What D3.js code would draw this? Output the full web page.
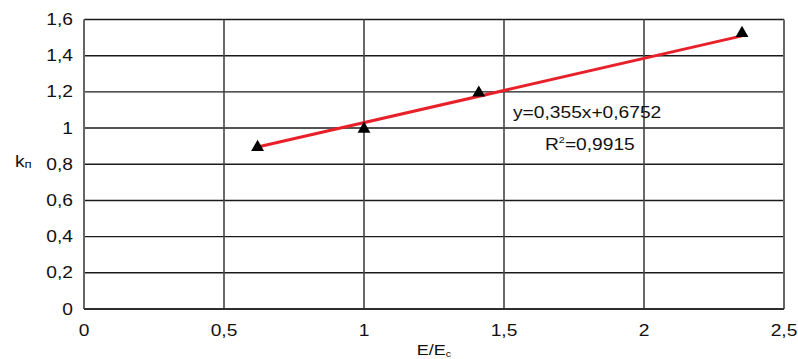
<!DOCTYPE html>
<html>
<head>
<meta charset="utf-8">
<script src="https://cdn.jsdelivr.net/npm/d3@7/dist/d3.min.js"></script>
<style>
  html, body { margin: 0; padding: 0; background: #fff; }
  svg { display: block; font-family: "Liberation Sans", Arial, sans-serif; }
</style>
</head>
<body>
<svg id="chart" width="798" height="359"></svg>
<script>
// Measured points: relative field strength vs. coefficient
const xValues = [0.62, 1.0, 1.41, 2.35];
const yValues = [0.9, 1.0, 1.2, 1.53];

// Linear trend (least squares fit)
const trendSlope = 0.355;
const trendIntercept = 0.6752;
const trendLabel = "y=0,355x+0,6752";
const r2Label = "=0,9915";

const xTicks = [0, 0.5, 1, 1.5, 2, 2.5];
const yTicks = [0, 0.2, 0.4, 0.6, 0.8, 1.0, 1.2, 1.4, 1.6];

const fmt = v => String(v).replace(".", ",");
const stretch = 1.2; // glyphs are drawn slightly wide

const svg = d3.select("#chart");
const margin = { left: 84, right: 14, top: 19.5, bottom: 50 };
const W = 798, H = 359;

const x = d3.scaleLinear().domain([0, 2.5]).range([margin.left, W - margin.right]);
const y = d3.scaleLinear().domain([0, 1.6]).range([H - margin.bottom, margin.top]);

// Places a text whose anchor sits at (px, py), widened horizontally
function label(px, py) {
  return svg.append("g")
    .attr("transform", `translate(${px},${py}) scale(${stretch},1)`)
    .append("text").attr("fill", "#111");
}

// Horizontal grid lines
svg.append("g").selectAll("line").data(yTicks).join("line")
  .attr("x1", x(0)).attr("x2", x(2.5))
  .attr("y1", d => y(d)).attr("y2", d => y(d))
  .attr("stroke", "#1a1a1a").attr("stroke-width", 1.4);

// Vertical grid lines
svg.append("g").selectAll("line").data(xTicks).join("line")
  .attr("x1", d => x(d)).attr("x2", d => x(d))
  .attr("y1", y(0)).attr("y2", y(1.6))
  .attr("stroke", d => (d === 0 || d === 2.5) ? "#666" : "#444")
  .attr("stroke-width", d => (d === 0 || d === 2.5) ? 2 : 1.6);

// Bottom axis line
svg.append("line")
  .attr("x1", x(0)).attr("x2", x(2.5))
  .attr("y1", y(0)).attr("y2", y(0))
  .attr("stroke", "#222").attr("stroke-width", 1.6);

// Y tick labels
yTicks.forEach(d => {
  label(73, y(d)).attr("dy", "0.35em").attr("text-anchor", "end")
    .attr("font-size", 16).text(fmt(d));
});

// X tick labels
xTicks.forEach(d => {
  label(x(d), 330).attr("dy", "0.35em").attr("text-anchor", "middle")
    .attr("font-size", 16).text(fmt(d));
});

// Axis titles
const xt = label((x(0) + x(2.5)) / 2, 355)
  .attr("text-anchor", "middle").attr("font-size", 15);
xt.append("tspan").text("E/E");
xt.append("tspan").attr("font-size", 9).attr("dy", 2).text("c");

const yt = label(15, 167).attr("font-size", 16);
yt.append("tspan").text("k");
yt.append("tspan").attr("font-size", 11).attr("dy", 1).text("п");

// Trend line across the data range
const x0 = d3.min(xValues), x1 = d3.max(xValues);
svg.append("line")
  .attr("x1", x(x0)).attr("y1", y(trendSlope * x0 + trendIntercept))
  .attr("x2", x(x1)).attr("y2", y(trendSlope * x1 + trendIntercept))
  .attr("stroke", "#e8202a").attr("stroke-width", 3);

// Triangle markers
const tri = d3.symbol().type(d3.symbolTriangle).size(72);
svg.append("g").selectAll("path").data(xValues).join("path")
  .attr("d", tri)
  .attr("transform", (d, i) => `translate(${x(d)},${y(yValues[i]) + 1})`)
  .attr("fill", "#000");

// Trend equation and R²
label(513, 112).attr("dy", "0.35em").attr("font-size", 16).text(trendLabel);
const r2 = label(545, 144).attr("dy", "0.35em").attr("font-size", 16);
r2.append("tspan").text("R");
r2.append("tspan").attr("font-size", 9).attr("dy", -7).text("2");
r2.append("tspan").attr("dy", 7).text(r2Label);
</script>
</body>
</html>
